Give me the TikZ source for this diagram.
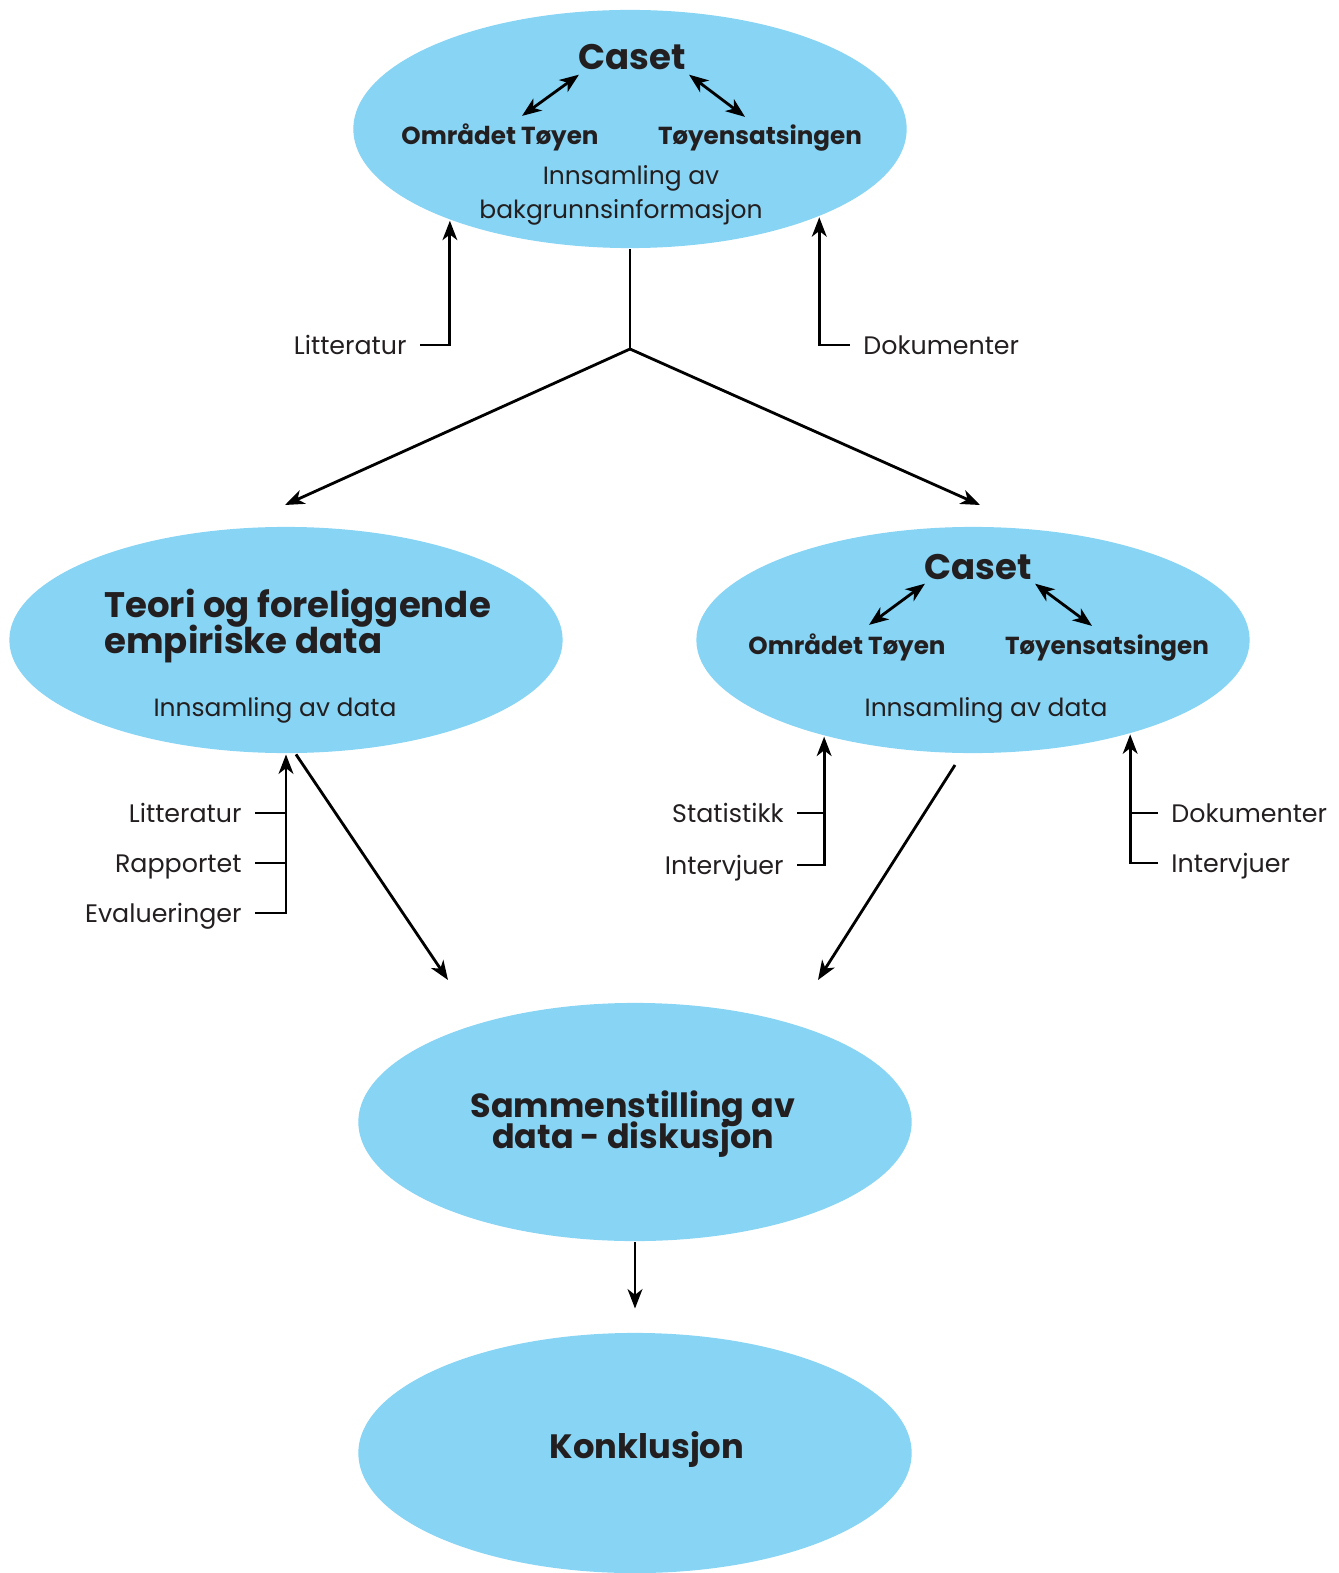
\documentclass[tikz,border=0pt]{standalone}
\usepackage{fontspec}
\setmainfont{Poppins}
\usetikzlibrary{shapes.geometric,arrows.meta}
\definecolor{blobblue}{RGB}{135,212,244}
\definecolor{inkgray}{RGB}{35,31,32}

\tikzset{
  blob/.style={ellipse, fill=blobblue, minimum width=5.53cm, minimum height=2.38cm, inner sep=0pt},
  title/.style={font=\bfseries\fontsize{10.1}{12}\selectfont, text=inkgray, inner sep=0pt},
  head/.style={font=\bfseries\fontsize{9.5}{11}\selectfont, text=inkgray, inner sep=0pt},
  sub/.style={font=\bfseries\fontsize{7.0}{8}\selectfont, text=inkgray, inner sep=0pt},
  note/.style={font=\fontsize{7.1}{9}\selectfont, text=inkgray, inner sep=0pt},
  lbl/.style={font=\fontsize{7.2}{9}\selectfont, text=inkgray, inner xsep=0.12cm, inner ysep=0pt},
}

\begin{document}
\begin{tikzpicture}[x=0.01cm, y=-0.01cm, line width=0.8pt,
  >={Stealth[length=5.5pt,width=4.2pt,inset=1.6pt]}]
\useasboundingbox (0,0) rectangle (1338,1573);

% ellipses
\node[blob] (top) at (630,129) {};
\node[blob, minimum height=2.26cm] (teori) at (286,640) {};
\node[blob, minimum height=2.26cm] (caset) at (973,640) {};
\node[blob] (samm) at (635,1122) {};
\node[blob, minimum height=2.4cm] (konk) at (635,1453) {};

% top ellipse
\node[title, anchor=base] (topC) at (632,70) {Caset};
\node[sub, anchor=base] (topO) at (500,145) {Området Tøyen};
\node[sub, anchor=base] (topT) at (760,145) {Tøyensatsingen};
\node[note, anchor=base] (topI) at (631,185) {Innsamling av};
\node[note, anchor=base] (topB) at (621,219) {bakgrunnsinformasjon};
\draw[<->] ([shift={(2,3)}]topC.south west) -- ([shift={(22,-7)}]topO.north);
\draw[<->] ([shift={(2,3)}]topC.south east) -- ([shift={(-15,-7)}]topT.north);

\node[lbl, anchor=mid east] (litA) at (420,345) {Litteratur};
\draw[->] (litA.mid east) -| (top.-153);
\node[lbl, anchor=mid west] (dokA) at (850,345) {Dokumenter};
\draw[->] (dokA.mid west) -| (top.-25);

% split
\coordinate (split) at (630,349);
\coordinate (toTeori) at (285,505);
\coordinate (toCaset) at (980,505);
\draw (top.south) -- (split);
\draw[->] (split) -- (toTeori);
\draw[->] (split) -- (toCaset);

% teori ellipse
\node[head, font=\bfseries\fontsize{10.1}{11}\selectfont, anchor=base west] (teoA) at (103,617) {Teori og foreliggende};
\node[head, font=\bfseries\fontsize{10.1}{11}\selectfont, anchor=base west] (teoB) at (103,653) {empiriske data};
\node[note, anchor=base] (teoI) at (275,716) {Innsamling av data};

\node[lbl, anchor=mid east] (litB) at (255,813) {Litteratur};
\node[lbl, anchor=mid east] (rapB) at (255,863) {Rapportet};
\node[lbl, anchor=mid east] (evaB) at (255,913) {Evalueringer};
\draw[->] (evaB.mid east) -| (teori.south);
\draw (litB.mid east) -- (litB.mid east -| teori.south);
\draw (rapB.mid east) -- (rapB.mid east -| teori.south);

% caset ellipse
\node[title, anchor=base] (casC) at (978,579) {Caset};
\node[sub, anchor=base] (casO) at (847,654) {Området Tøyen};
\node[sub, anchor=base] (casT) at (1107,654) {Tøyensatsingen};
\node[note, anchor=base] (casI) at (986,716) {Innsamling av data};
\draw[<->] ([shift={(2,3)}]casC.south west) -- ([shift={(22,-7)}]casO.north);
\draw[<->] ([shift={(2,3)}]casC.south east) -- ([shift={(-15,-7)}]casT.north);

\node[lbl, anchor=mid east] (staC) at (797,813) {Statistikk};
\node[lbl, anchor=mid east] (intC) at (797,865) {Intervjuer};
\draw[->] (intC.mid east) -| (caset.-147);
\draw (staC.mid east) -- (staC.mid east -| caset.-147);
\node[lbl, anchor=mid west] (dokD) at (1158,813) {Dokumenter};
\node[lbl, anchor=mid west] (intD) at (1158,863) {Intervjuer};
\draw[->] (intD.mid west) -| (caset.-31);
\draw (dokD.mid west) -- (dokD.mid west -| caset.-31);

% towards sammenstilling
\coordinate (toSammL) at (448,980);
\coordinate (fromCaset) at (955,765);
\coordinate (toSammR) at (818,980);
\draw[->] (teori.-85) -- (toSammL);
\draw[->] (fromCaset) -- (toSammR);

% sammenstilling and konklusjon
\node[head, anchor=base] (samA) at (633,1117) {Sammenstilling av};
\node[head, anchor=base] (samB) at (633,1148) {data - diskusjon};
\draw[->] (samm.south) -- ([yshift=0.23cm]konk.north);
\node[title, font=\bfseries\fontsize{9.6}{12}\selectfont, anchor=base] (konA) at (647,1458) {Konklusjon};
\end{tikzpicture}
\end{document}
